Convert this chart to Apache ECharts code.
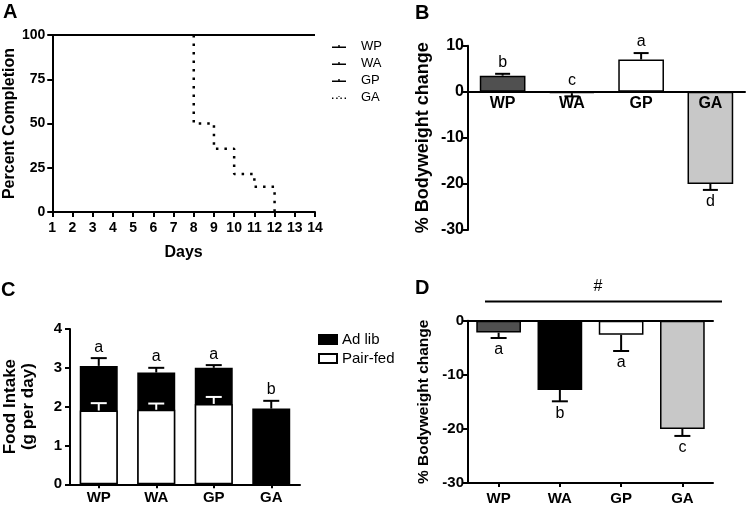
<!DOCTYPE html>
<html>
<head>
<meta charset="utf-8">
<script src="https://cdn.jsdelivr.net/npm/echarts@6/dist/echarts.min.js"></script>
<style>html,body{margin:0;padding:0;background:#fff}#c{width:750px;height:506px}</style>
</head>
<body>
<div id="c"></div>
<script>
// ---------- DATA ----------
// Panel A: percent completion over days
const lineDays = [1, 14];
const pctWP = [100, 100];
const pctWA = [100, 100];
const pctGP = [100, 100];
const gaDays = [8, 8, 9, 10, 11, 12];
const pctGA = [100, 50, 35.7, 21.4, 14.3, 0];

// Groups
const groups = ['WP', 'WA', 'GP', 'GA'];
const groupColors = ['#505050', '#000000', '#ffffff', '#c8c8c8'];

// Panel B: % bodyweight change
const bwB = [3.5, -0.3, 7.0, -20.0];
const errB = [3.9, -1.0, 8.4, -21.3];
const lettersB = ['b', 'c', 'a', 'd'];
const letterDirB = [1, 1, 1, -1];

// Panel C: food intake (g per day)
const adLib = [3.05, 2.88, 3.0, 1.95];
const adLibErr = [3.25, 3.0, 3.07, 2.15];
const pairFed = [1.9, 1.92, 2.07, null];
const pairFedErr = [2.09, 2.08, 2.25, null];
const lettersC = ['a', 'a', 'a', 'b'];

// Panel D: % bodyweight change
const bwD = [-2.2, -12.8, -2.6, -20.0];
const errD = [-3.2, -14.9, -5.6, -21.3];
const lettersD = ['a', 'b', 'a', 'c'];
const letterDirD = [-1, -1, -1, -1];

// ---------- CHART ----------
const FF = '"Liberation Sans", Arial, Helvetica, sans-serif';
const chart = echarts.init(document.getElementById('c'));

function yAx(grid, min, max, interval, name, nameGap, fs, nfs, margin) {
  return {
    type: 'value', gridIndex: grid, min: min, max: max, interval: interval,
    name: name, nameLocation: 'middle', nameGap: nameGap,
    nameTextStyle: { fontFamily: FF, fontWeight: 'bold', fontSize: nfs, color: '#000', lineHeight: nfs + 1 },
    axisLine: { show: true, lineStyle: { color: '#000', width: 2 } },
    axisTick: { show: true, length: 5, lineStyle: { color: '#000', width: 2 } },
    axisLabel: { fontFamily: FF, fontWeight: 'bold', fontSize: fs, color: '#000', margin: margin },
    splitLine: { show: false }
  };
}
function catAx(grid, opts) {
  return Object.assign({
    type: 'category', gridIndex: grid, data: groups,
    axisLine: { show: true, lineStyle: { color: '#000', width: 2 } },
    axisTick: { show: false },
    axisLabel: { fontFamily: FF, fontWeight: 'bold', fontSize: 15, color: '#000', margin: 6 },
    splitLine: { show: false }
  }, opts);
}

function errSeries(xi, yi, vals, errs, color, capW, z) {
  return {
    type: 'custom', xAxisIndex: xi, yAxisIndex: yi, z: z || 3, silent: true,
    data: vals.map((v, i) => (v == null ? null : [i, v, errs[i]])).filter(d => d),
    renderItem: function (params, api) {
      const p0 = api.coord([api.value(0), api.value(1)]);
      const p1 = api.coord([api.value(0), api.value(2)]);
      const st = { stroke: color, lineWidth: 2 };
      return {
        type: 'group', children: [
          { type: 'line', shape: { x1: p0[0], y1: p0[1], x2: p1[0], y2: p1[1] }, style: st },
          { type: 'line', shape: { x1: p1[0] - capW / 2, y1: p1[1], x2: p1[0] + capW / 2, y2: p1[1] }, style: st }
        ]
      };
    }
  };
}

function letterSeries(xi, yi, vals, errs, letters, dirs, fs) {
  return {
    type: 'custom', xAxisIndex: xi, yAxisIndex: yi, z: 5, silent: true,
    data: vals.map((v, i) => {
      const d = dirs[i];
      const a = d > 0 ? Math.max(0, v, errs[i]) : Math.min(0, v, errs[i]);
      return [i, a, d];
    }),
    renderItem: function (params, api) {
      const p = api.coord([api.value(0), api.value(1)]);
      const d = api.value(2);
      return {
        type: 'text', x: p[0], y: d > 0 ? p[1] - 3 : p[1] + 4,
        style: {
          text: letters[params.dataIndex], fontFamily: FF, fontSize: fs, fill: '#000',
          align: 'center', verticalAlign: d > 0 ? 'bottom' : 'top'
        }
      };
    }
  };
}

// category names drawn just under the zero line (panel B)
function zeroLabelSeries(xi, yi, fs) {
  return {
    type: 'custom', xAxisIndex: xi, yAxisIndex: yi, z: 20, silent: true,
    data: groups.map((g, i) => [i, 0]),
    renderItem: function (params, api) {
      const p = api.coord([api.value(0), api.value(1)]);
      return {
        type: 'text', x: p[0], y: p[1] + 4,
        style: { text: groups[params.dataIndex], fontFamily: FF, fontWeight: 'bold', fontSize: fs,
          fill: '#000', align: 'center', verticalAlign: 'top' }
      };
    }
  };
}

function barData(vals) {
  return vals.map((v, i) => ({ value: v, itemStyle: { color: groupColors[i] } }));
}

const lineIcon = 'path://M0,2H20V4H0Z M9,0H11V2H9Z';
const dotIcon = 'path://M0,2H2V4H0Z M6,2H8V4H6Z M12,2H14V4H12Z M18,2H20V4H18Z M9,0H11V1H9Z';

const option = {
  backgroundColor: '#fff',
  animation: false,
  title: [
    { text: 'A', left: 3, top: 2, padding: 0, textStyle: { fontFamily: FF, fontWeight: 'bold', fontSize: 20, color: '#000' } },
    { text: 'B', left: 415, top: 3, padding: 0, textStyle: { fontFamily: FF, fontWeight: 'bold', fontSize: 20, color: '#000' } },
    { text: 'C', left: 1, top: 280, padding: 0, textStyle: { fontFamily: FF, fontWeight: 'bold', fontSize: 20, color: '#000' } },
    { text: 'D', left: 415, top: 278, padding: 0, textStyle: { fontFamily: FF, fontWeight: 'bold', fontSize: 20, color: '#000' } }
  ],
  legend: [
    {
      orient: 'vertical', left: 332, top: 40, itemWidth: 14, itemHeight: 4, itemGap: 4, padding: 0,
      textStyle: { fontFamily: FF, fontSize: 13, color: '#000', padding: [0, 0, 0, 10] },
      data: [
        { name: 'WP', icon: lineIcon }, { name: 'WA', icon: lineIcon },
        { name: 'GP', icon: lineIcon }, { name: 'GA', icon: dotIcon }
      ]
    },
    {
      orient: 'vertical', left: 318, top: 332, itemWidth: 18, itemHeight: 9, itemGap: 4, padding: 0,
      textStyle: { fontFamily: FF, fontSize: 15, color: '#000' },
      data: [{ name: 'Ad lib', icon: 'rect' }, { name: 'Pair-fed', icon: 'rect' }]
    }
  ],
  grid: [
    { left: 50, top: 35, width: 265, height: 177 },
    { left: 468, top: 45.7, width: 277, height: 184.3 },
    { left: 66, top: 329, width: 234, height: 155.3 },
    { left: 468, top: 320.7, width: 245, height: 162.6 }
  ],
  xAxis: [
    {
      type: 'value', gridIndex: 0, min: 1, max: 14, interval: 1,
      name: 'Days', nameLocation: 'middle', nameGap: 33,
      nameTextStyle: { fontFamily: FF, fontWeight: 'bold', fontSize: 16, color: '#000' },
      axisLine: { show: true, onZero: false, lineStyle: { color: '#000', width: 2 } },
      axisTick: { show: true, length: 5, lineStyle: { color: '#000', width: 2 } },
      axisLabel: { fontFamily: FF, fontWeight: 'bold', fontSize: 14, color: '#000', margin: 9 },
      splitLine: { show: false }
    },
    catAx(1, { z: 10, axisLine: { show: true, onZero: true, lineStyle: { color: '#000', width: 2 } },
      axisLabel: { show: false } }),
    catAx(2, { axisTick: { show: true, alignWithLabel: true, length: 4, lineStyle: { color: '#000', width: 2 } },
      axisLabel: { fontFamily: FF, fontWeight: 'bold', fontSize: 15, color: '#000', margin: 6 } }),
    catAx(3, { axisLine: { show: true, onZero: false, lineStyle: { color: '#000', width: 2 } },
      axisTick: { show: true, alignWithLabel: true, length: 4, lineStyle: { color: '#000', width: 2 } },
      axisLabel: { fontFamily: FF, fontWeight: 'bold', fontSize: 15, color: '#000', margin: 8 } }),
    catAx(3, { position: 'top', axisLine: { show: true, onZero: false, lineStyle: { color: '#000', width: 2 } },
      axisLabel: { show: false }, axisTick: { show: false } })
  ],
  yAxis: [
    yAx(0, 0, 100, 25, 'Percent Completion', 34, 14, 16, 7),
    yAx(1, -30, 10, 10, '% Bodyweight change', 35, 16, 18, 4),
    yAx(2, 0, 4, 1, 'Food Intake\n(g per day)', 33, 15, 17, 8),
    yAx(3, -30, 0, 10, '% Bodyweight change', 36, 15, 15.5, 4)
  ],
  series: [
    // Panel A
    { name: 'WP', type: 'line', xAxisIndex: 0, yAxisIndex: 0, symbol: 'none', color: '#000', clip: false,
      lineStyle: { color: '#000', width: 2 }, data: lineDays.map((d, i) => [d, pctWP[i]]) },
    { name: 'WA', type: 'line', xAxisIndex: 0, yAxisIndex: 0, symbol: 'none', color: '#000', clip: false,
      lineStyle: { color: '#000', width: 2 }, data: lineDays.map((d, i) => [d, pctWA[i]]) },
    { name: 'GP', type: 'line', xAxisIndex: 0, yAxisIndex: 0, symbol: 'none', color: '#000', clip: false,
      lineStyle: { color: '#000', width: 2 }, data: lineDays.map((d, i) => [d, pctGP[i]]) },
    { name: 'GA', type: 'line', xAxisIndex: 0, yAxisIndex: 0, symbol: 'none', color: '#000', step: 'end', clip: false,
      lineStyle: { color: '#000', width: 2.5, type: [2.5, 6] }, data: gaDays.map((d, i) => [d, pctGA[i]]) },

    // Panel B
    { name: 'B', type: 'bar', xAxisIndex: 1, yAxisIndex: 1, barWidth: '66%',
      itemStyle: { borderColor: '#000', borderWidth: 1.5 }, data: barData(bwB) },
    errSeries(1, 1, bwB, errB, '#000', 15),
    letterSeries(1, 1, bwB, errB, lettersB, letterDirB, 16),
    zeroLabelSeries(1, 1, 16),

    // Panel C
    { name: 'Ad lib', type: 'bar', xAxisIndex: 2, yAxisIndex: 2, barWidth: '66%', barGap: '-100%', z: 2,
      itemStyle: { color: '#000', borderColor: '#000', borderWidth: 1.5 }, data: adLib },
    { name: 'Pair-fed', type: 'bar', xAxisIndex: 2, yAxisIndex: 2, barWidth: '66%', barGap: '-100%', z: 2,
      itemStyle: { color: '#fff', borderColor: '#000', borderWidth: 1.5 }, data: pairFed },
    errSeries(2, 2, adLib, adLibErr, '#000', 16),
    errSeries(2, 2, pairFed, pairFedErr, '#fff', 16, 4),
    letterSeries(2, 2, adLib, adLibErr, lettersC, [1, 1, 1, 1], 16),

    // Panel D
    { name: 'D', type: 'bar', xAxisIndex: 3, yAxisIndex: 3, barWidth: '73%',
      itemStyle: { borderColor: '#000', borderWidth: 1.5 }, data: barData(bwD) },
    errSeries(3, 3, bwD, errD, '#000', 16),
    letterSeries(3, 3, bwD, errD, lettersD, letterDirD, 16)
  ],
  graphic: [
    { type: 'line', shape: { x1: 485, y1: 301.5, x2: 722, y2: 301.5 }, style: { stroke: '#000', lineWidth: 2 } },
    { type: 'text', x: 598, y: 287, style: { text: '#', fontFamily: FF, fontSize: 16, fill: '#000', align: 'center', verticalAlign: 'middle' } }
  ]
};
chart.setOption(option);
</script>
</body>
</html>
